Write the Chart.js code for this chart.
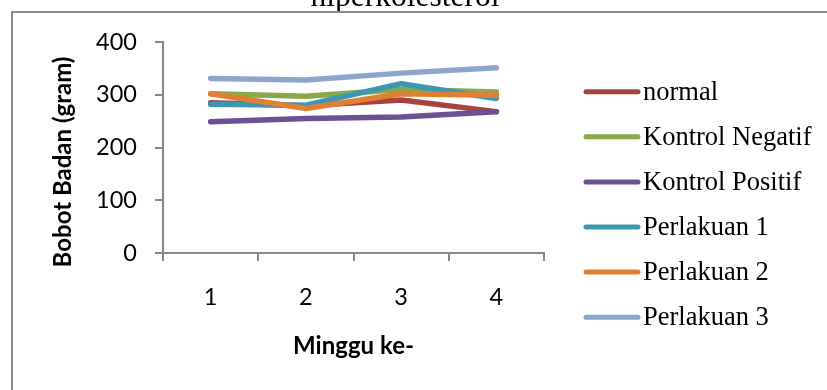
<!DOCTYPE html>
<html>
<head>
<meta charset="utf-8">
<script src="https://cdn.jsdelivr.net/npm/chart.js@4.4.1/dist/chart.umd.min.js"></script>
<style>
  html, body { margin: 0; padding: 0; background: #fff; }
  #wrap { width: 827px; height: 390px; position: relative; }
</style>
</head>
<body>
<div id="wrap"><canvas id="chart" width="827" height="390"></canvas></div>
<script>
const weeks = ['1', '2', '3', '4'];
const seriesNames = ['normal', 'Kontrol Negatif', 'Kontrol Positif', 'Perlakuan 1', 'Perlakuan 2', 'Perlakuan 3'];
const normal = [285, 279, 290, 268];
const kontrolNegatif = [302, 297, 310, 305];
const kontrolPositif = [249, 255, 258, 268];
const perlakuan1 = [282, 280, 321, 293];
const perlakuan2 = [302, 274, 302, 299];
const perlakuan3 = [331, 328, 341, 351];
const yTicks = [0, 100, 200, 300, 400];
const seriesColors = ['#A8423F', '#88A949', '#6E5192', '#3D97B1', '#E08036', '#8EA6CD'];

const chartTitle = 'hiperkolesterol';
const yTitle = 'Bobot Badan (gram)';
const xTitle = 'Minggu ke-';

const calibri = 'Lato, "Open Sans", sans-serif';
const times = '"Liberation Serif", "Times New Roman", serif';

const allValues = [normal, kontrolNegatif, kontrolPositif, perlakuan1, perlakuan2, perlakuan3];

const datasets = seriesNames.map((name, i) => ({
    label: name,
    data: allValues[i],
    borderColor: seriesColors[i],
    backgroundColor: seriesColors[i],
    borderWidth: 5.5,
    borderCapStyle: 'round',
    borderJoinStyle: 'round',
    pointRadius: 0,
    pointHoverRadius: 0,
    tension: 0,
    order: seriesNames.length - i
}));

// frame, cut-off title, rotated y title and the legend on the right
const decorations = {
    id: 'decorations',
    beforeDraw(chart) {
        const ctx = chart.ctx;
        ctx.save();
        ctx.fillStyle = '#000';
        ctx.font = '31.5px ' + times;
        ctx.textAlign = 'center';
        ctx.textBaseline = 'alphabetic';
        ctx.fillText(chartTitle, 405, 6);
        ctx.fillStyle = '#fff';
        ctx.fillRect(12, 12, 815, 378);
        ctx.strokeStyle = '#8c8c8c';
        ctx.lineWidth = 2;
        ctx.beginPath();
        ctx.moveTo(12, 390);
        ctx.lineTo(12, 12);
        ctx.lineTo(827, 12);
        ctx.stroke();
        ctx.restore();
    },
    afterDraw(chart) {
        const ctx = chart.ctx;
        ctx.save();
        // y axis title
        ctx.translate(63, 162);
        ctx.rotate(-Math.PI / 2);
        ctx.font = 'bold 24px ' + calibri;
        ctx.fillStyle = '#000';
        ctx.textAlign = 'center';
        ctx.textBaseline = 'middle';
        ctx.fillText(yTitle, 0, 0);
        ctx.restore();

        ctx.save();
        ctx.font = '26.5px ' + times;
        ctx.textAlign = 'left';
        ctx.textBaseline = 'alphabetic';
        chart.data.datasets.forEach((ds, i) => {
            const y = 91.7 + i * 45.1;
            ctx.strokeStyle = ds.borderColor;
            ctx.lineWidth = 5;
            ctx.lineCap = 'round';
            ctx.beginPath();
            ctx.moveTo(586, y);
            ctx.lineTo(638, y);
            ctx.stroke();
            ctx.fillStyle = '#000';
            ctx.fillText(ds.label, 643, y + 8);
        });
        ctx.restore();
    }
};

new Chart(document.getElementById('chart'), {
    type: 'line',
    data: { labels: weeks, datasets: datasets },
    options: {
        responsive: false,
        animation: false,
        events: [],
        layout: { padding: { left: 0, top: 42, right: 283, bottom: 0 } },
        plugins: {
            legend: { display: false },
            title: { display: false },
            tooltip: { enabled: false }
        },
        scales: {
            x: {
                type: 'category',
                offset: true,
                afterFit: s => { s.height = 137; },
                grid: { drawOnChartArea: false, drawTicks: true, tickLength: 8, offset: true, color: '#888', lineWidth: 2 },
                border: { color: '#888', width: 2 },
                ticks: { color: '#000', font: { family: calibri, size: 23.5 }, padding: 22, maxRotation: 0 },
                title: { display: true, text: xTitle, color: '#000', font: { family: calibri, size: 24, weight: 'bold' }, padding: { top: 0, bottom: 29 } }
            },
            y: {
                min: 0,
                max: 400,
                afterFit: s => { s.width = 163; },
                afterBuildTicks: s => { s.ticks = yTicks.map(v => ({ value: v })); },
                grid: { drawOnChartArea: false, drawTicks: true, tickLength: 8, color: '#888', lineWidth: 2 },
                border: { color: '#888', width: 2 },
                ticks: { color: '#000', font: { family: calibri, size: 23.5 }, padding: 18 }
            }
        }
    },
    plugins: [decorations]
});
</script>
</body>
</html>
